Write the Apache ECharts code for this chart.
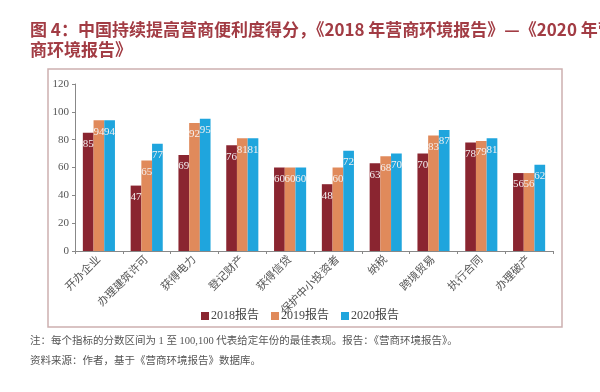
<!DOCTYPE html>
<html>
<head>
<meta charset="utf-8">
<script src="https://cdn.jsdelivr.net/npm/echarts@6/dist/echarts.min.js"></script>
<style>
html,body{margin:0;padding:0;background:#fff;}
#c{width:600px;height:392px;}
</style>
</head>
<body>
<div id="c"></div>
<script>
var categories = ['开办企业','办理建筑许可','获得电力','登记财产','获得信贷','保护中小投资者','纳税','跨境贸易','执行合同','办理破产'];
var seriesNames = ['2018报告','2019报告','2020报告'];
var values2018 = [85,47,69,76,60,48,63,70,78,56];
var values2019 = [94,65,92,81,60,60,68,83,79,56];
var values2020 = [94,77,95,81,60,72,70,87,81,62];
var yTicks = [0,20,40,60,80,100,120];

var titleLine1 = '图 4：中国持续提高营商便利度得分，《2018 年营商环境报告》—《2020 年营';
var titleLine2 = '商环境报告》';
var note1 = '注：每个指标的分数区间为 1 至 100,100 代表给定年份的最佳表现。报告：《营商环境报告》。';
var note2 = '资料来源：作者，基于《营商环境报告》数据库。';

var colors = ['#8A2530','#E08A5B','#1FA5DD'];
var serif = '"Liberation Serif","Noto Sans CJK SC",serif';

var chart = echarts.init(document.getElementById('c'), null, {renderer:'canvas'});
var dataSets = [values2018, values2019, values2020];
var series = dataSets.map(function(d, i){
  return {
    name: seriesNames[i],
    type: 'bar',
    data: d,
    barWidth: 10.7,
    barGap: '0%',
    itemStyle: {color: colors[i]},
    label: {
      show: true,
      position: 'insideTop',
      distance: 6,
      color: '#f4f0f0',
      fontFamily: serif,
      fontSize: 11
    }
  };
});

chart.setOption({
  animation: false,
  color: colors,
  graphic: [
    {type:'text', left: 30, top: 21, style:{text: titleLine1, fill:'#A23C44', font:'bold 17px "Noto Sans CJK SC", sans-serif'}},
    {type:'text', left: 30, top: 41, style:{text: titleLine2, fill:'#A23C44', font:'bold 17px "Noto Sans CJK SC", sans-serif'}},
    {type:'rect', shape:{x:48, y:69, width:514, height:258}, style:{fill:'none', stroke:'#CDB0B0', lineWidth:1.5}, z:-1},
    {type:'text', left: 30, top: 336, style:{text: note1, fill:'#555', font:'10.5px "Liberation Serif","Noto Sans CJK SC",serif'}},
    {type:'text', left: 30, top: 356, style:{text: note2, fill:'#555', font:'10.5px "Liberation Serif","Noto Sans CJK SC",serif'}}
  ],
  legend: {
    data: seriesNames,
    bottom: 65,
    left: 'center',
    itemWidth: 8,
    itemHeight: 8,
    itemGap: 12,
    icon: 'rect',
    textStyle: {fontFamily: serif, fontSize: 12, color:'#444', padding:[0,0,0,-3]}
  },
  grid: {left: 75, right: 47, top: 84, bottom: 141},
  xAxis: {
    type: 'category',
    data: categories,
    axisLine: {lineStyle:{color:'#888'}},
    axisTick: {show: true, length: 3, lineStyle:{color:'#888'}},
    axisLabel: {rotate: 45, color:'#555', fontFamily: serif, fontSize: 11, margin: 7}
  },
  yAxis: {
    type: 'value',
    min: 0, max: 120, interval: 20,
    axisLine: {show: true, lineStyle:{color:'#888'}},
    axisTick: {show: true, length: 3, lineStyle:{color:'#888'}},
    splitLine: {show: false},
    axisLabel: {color:'#555', fontFamily: serif, fontSize: 11, margin: 6}
  },
  series: series
});
</script>
</body>
</html>
